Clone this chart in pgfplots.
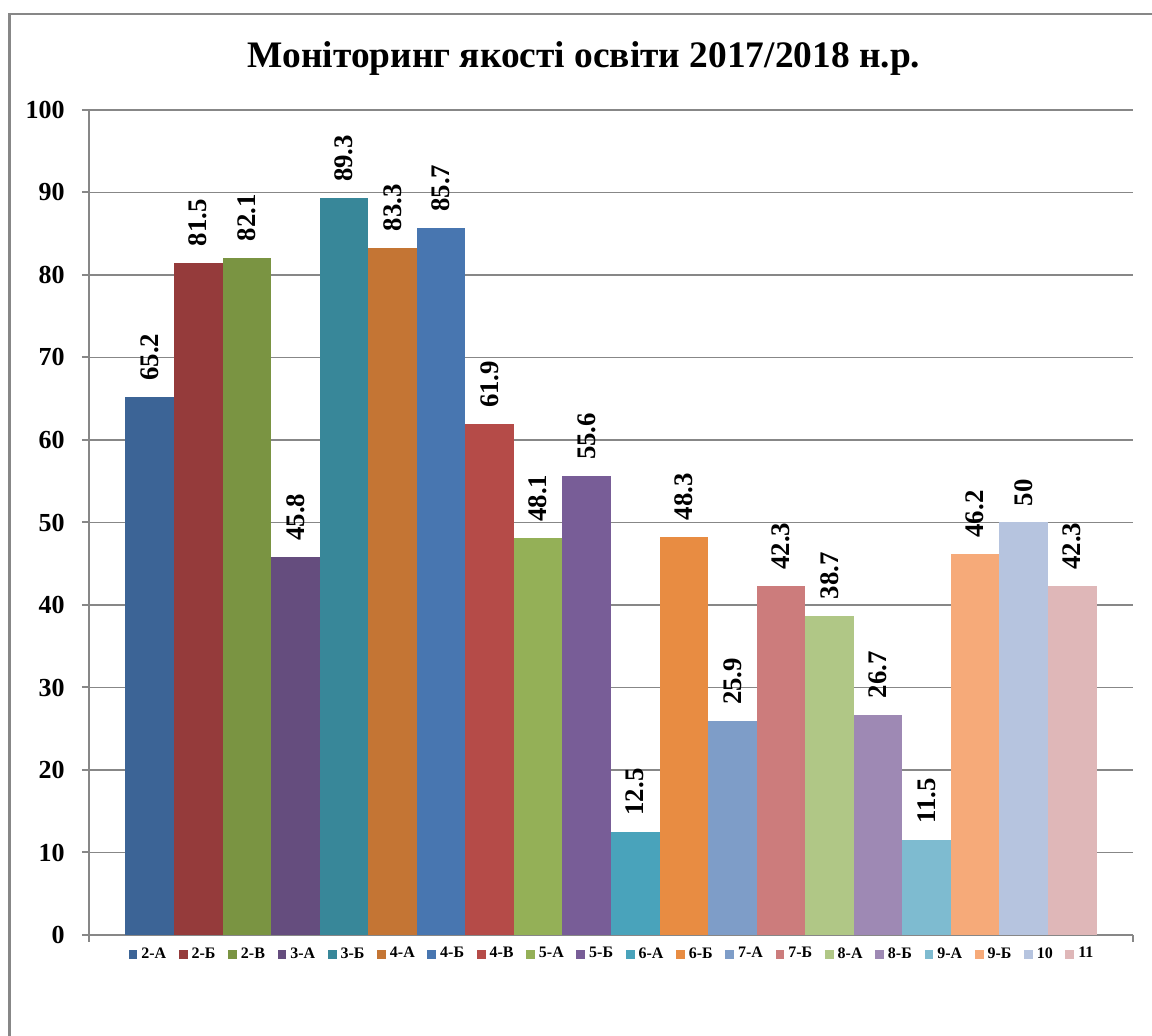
\documentclass[border=0pt]{standalone}
\usepackage{pgfplots}
\pgfplotsset{compat=1.18}
\usepackage{fontspec}
\setmainfont{Liberation Serif}
\definecolor{c1}{HTML}{3C6496}
\definecolor{c2}{HTML}{953B3B}
\definecolor{c3}{HTML}{7A9442}
\definecolor{c4}{HTML}{654D7E}
\definecolor{c5}{HTML}{388799}
\definecolor{c6}{HTML}{C47534}
\definecolor{c7}{HTML}{4876B0}
\definecolor{c8}{HTML}{B54B48}
\definecolor{c9}{HTML}{94B057}
\definecolor{c10}{HTML}{785D97}
\definecolor{c11}{HTML}{49A3BB}
\definecolor{c12}{HTML}{E88C42}
\definecolor{c13}{HTML}{7E9DC8}
\definecolor{c14}{HTML}{CC7C7C}
\definecolor{c15}{HTML}{B0C786}
\definecolor{c16}{HTML}{9E89B4}
\definecolor{c17}{HTML}{7EBBD0}
\definecolor{c18}{HTML}{F6AA79}
\definecolor{c19}{HTML}{B6C4DF}
\definecolor{c20}{HTML}{DFB7B8}
\definecolor{axgray}{HTML}{878787}
\begin{document}
\begin{tikzpicture}
\useasboundingbox (0,0) rectangle (576pt,518pt);
\begin{scope}
\clip (0,0) rectangle (576pt,518pt);
\draw[color=axgray, line width=1.2pt] (4.75pt,-20pt) -- (4.75pt,510.85pt) -- (620pt,510.85pt);
\end{scope}
\node[anchor=base, font=\bfseries\fontsize{18.7}{22}\selectfont] at (292pt,484pt) {Моніторинг якості освіти 2017/2018 н.р.};
\begin{axis}[
  at={(44.5pt,50.5pt)}, anchor=south west,
  scale only axis, width=522pt, height=412.5pt,
  ybar, bar width=1,
  xmin=-1.25, xmax=20.25, ymin=0, ymax=100,
  ytick={0,10,...,100},
  xtick={-1.25,20.25}, xticklabels={},
  axis x line*=bottom, axis y line*=left,
  axis line style={color=axgray, line width=1pt},
  tick style={color=axgray, line width=1pt},
  tick align=outside, major tick length=3.5pt,
  ymajorgrids, grid style={color=axgray, line width=0.8pt},
  /pgf/number format/assume math mode=true,
  yticklabel style={font=\bfseries\fontsize{13}{15}\selectfont, inner sep=0pt, xshift=-8.5pt},
  nodes near coords,
  every node near coord/.append style={rotate=90, anchor=west, inner ysep=0pt, inner xsep=8pt, font=\bfseries\fontsize{13.4}{15}\selectfont, color=black},
  legend columns=20,
  legend style={at={(0.5,0)}, anchor=north, yshift=-5pt, draw=none, fill=none, inner sep=0pt,
    font=\bfseries\fontsize{8}{9}\selectfont,
    nodes={inner xsep=0pt, inner ysep=1pt},
    /tikz/every odd column/.append style={column sep=2pt},
    /tikz/every even column/.append style={column sep=6.3pt}},
  legend image code/.code={\fill[#1] (0pt,-2.2pt) rectangle (4.4pt,2.2pt);},
]
\addplot[fill=c1, draw=none, bar shift=0pt] coordinates {(0,65.2)};
\addplot[fill=c2, draw=none, bar shift=0pt] coordinates {(1,81.5)};
\addplot[fill=c3, draw=none, bar shift=0pt] coordinates {(2,82.1)};
\addplot[fill=c4, draw=none, bar shift=0pt] coordinates {(3,45.8)};
\addplot[fill=c5, draw=none, bar shift=0pt] coordinates {(4,89.3)};
\addplot[fill=c6, draw=none, bar shift=0pt] coordinates {(5,83.3)};
\addplot[fill=c7, draw=none, bar shift=0pt] coordinates {(6,85.7)};
\addplot[fill=c8, draw=none, bar shift=0pt] coordinates {(7,61.9)};
\addplot[fill=c9, draw=none, bar shift=0pt] coordinates {(8,48.1)};
\addplot[fill=c10, draw=none, bar shift=0pt] coordinates {(9,55.6)};
\addplot[fill=c11, draw=none, bar shift=0pt] coordinates {(10,12.5)};
\addplot[fill=c12, draw=none, bar shift=0pt] coordinates {(11,48.3)};
\addplot[fill=c13, draw=none, bar shift=0pt] coordinates {(12,25.9)};
\addplot[fill=c14, draw=none, bar shift=0pt] coordinates {(13,42.3)};
\addplot[fill=c15, draw=none, bar shift=0pt] coordinates {(14,38.7)};
\addplot[fill=c16, draw=none, bar shift=0pt] coordinates {(15,26.7)};
\addplot[fill=c17, draw=none, bar shift=0pt] coordinates {(16,11.5)};
\addplot[fill=c18, draw=none, bar shift=0pt] coordinates {(17,46.2)};
\addplot[fill=c19, draw=none, bar shift=0pt] coordinates {(18,50)};
\addplot[fill=c20, draw=none, bar shift=0pt] coordinates {(19,42.3)};
\legend{2-А,2-Б,2-В,3-А,3-Б,4-А,4-Б,4-В,5-А,5-Б,6-А,6-Б,7-А,7-Б,8-А,8-Б,9-А,9-Б,10,11}
\end{axis}
\end{tikzpicture}
\end{document}
